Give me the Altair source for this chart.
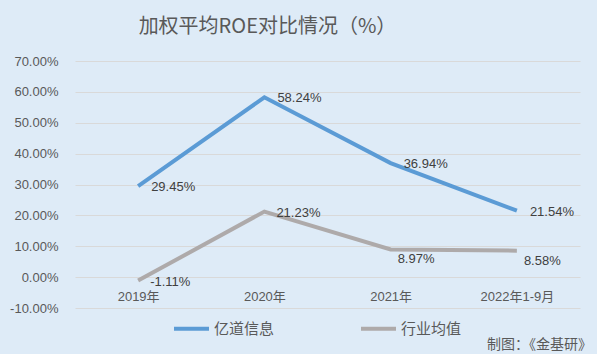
import altair as alt
import pandas as pd

categories = ["2019年", "2020年", "2021年", "2022年1-9月"]
series_names = ["亿道信息", "行业均值"]
yidao = [29.45, 58.24, 36.94, 21.54]
industry = [-1.11, 21.23, 8.97, 8.58]
y_ticks = [-10, 0, 10, 20, 30, 40, 50, 60, 70]

rows = []
for i, c in enumerate(categories):
    rows.append({"cat": c, "idx": i, "series": series_names[0], "v": yidao[i]})
    rows.append({"cat": c, "idx": i, "series": series_names[1], "v": industry[i]})
df = pd.DataFrame(rows)

FONT = "Liberation Sans, Noto Sans CJK SC, sans-serif"
W, H = 505, 247
YMIN, YMAX = -10, 70

base = alt.Chart(df).transform_calculate(
    label="replace(format(datum.v, '.2f'), '\u2212', '-') + '%'")

x = alt.X("cat:N", sort=categories, title=None,
          scale=alt.Scale(paddingInner=0, paddingOuter=0.5),
          axis=alt.Axis(domain=False, ticks=False, grid=False, labelAngle=0,
                        offset=-H * (0 - YMIN) / (YMAX - YMIN), labelPadding=13,
                        labelFontSize=13, labelColor="#595959", labelFont=FONT))
y = alt.Y("v:Q", title=None,
          scale=alt.Scale(domain=[YMIN, YMAX], nice=False, zero=False),
          axis=alt.Axis(values=y_ticks, domain=False, ticks=False,
                        labelExpr="replace(format(datum.value, '.2f'), '\u2212', '-') + '%'",
                        labelOverlap=False, tickCount=9,
                        gridColor="#D9D9D9", gridWidth=1, labelPadding=17,
                        labelFontSize=13, labelColor="#595959", labelFont=FONT))
color = alt.Color("series:N", title=None,
                  scale=alt.Scale(domain=series_names, range=["#5B9BD5", "#AEAAAA"]),
                  legend=alt.Legend(orient="none", legendX=97, legendY=248,
                                    direction="horizontal", symbolType="stroke",
                                    symbolSize=1225, symbolStrokeWidth=4,
                                    labelFontSize=15, labelColor="#595959",
                                    labelFont=FONT, columnPadding=78, labelOffset=3))

lines = base.mark_line(strokeWidth=4).encode(x=x, y=y, color=color)

blue_txt = base.transform_filter(alt.datum.series == series_names[0]).mark_text(
    align="left", baseline="middle", dx=13, dy=1, fontSize=13, color="#404040", font=FONT
).encode(x=x, y=y, text="label:N")

gray_a = base.transform_filter(
    (alt.datum.series == series_names[1]) & (alt.datum.idx < 2)).mark_text(
    align="left", baseline="middle", dx=12, dy=1, fontSize=13, color="#404040", font=FONT
).encode(x=x, y=y, text="label:N")

gray_b = base.transform_filter(
    (alt.datum.series == series_names[1]) & (alt.datum.idx >= 2)).mark_text(
    align="left", baseline="middle", dx=7, dy=10, fontSize=13, color="#404040", font=FONT
).encode(x=x, y=y, text="label:N")

source = alt.Chart(pd.DataFrame({"t": ["制图：《金基研》"]})).mark_text(
    align="right", baseline="middle", fontSize=14, color="#595959", font="Noto Sans CJK SC"
).encode(x=alt.value(W + 12), y=alt.value(H + 37), text="t:N")

chart = alt.layer(lines, blue_txt, gray_a, gray_b, source).properties(
    width=W, height=H,
    background="#DEEBF7",
    padding={"left": 75, "top": 61, "right": 17, "bottom": 46},
    autosize=alt.AutoSizeParams(type="none"),
    title=alt.TitleParams("加权平均ROE对比情况（%）", fontSize=20, fontWeight="normal",
                          color="#595959", font="Noto Sans CJK SC",
                          anchor="middle", frame="group", dx=-60, offset=18),
).configure_view(stroke=None)

chart.save("out.html", embed_options={"renderer": "svg", "actions": False})
